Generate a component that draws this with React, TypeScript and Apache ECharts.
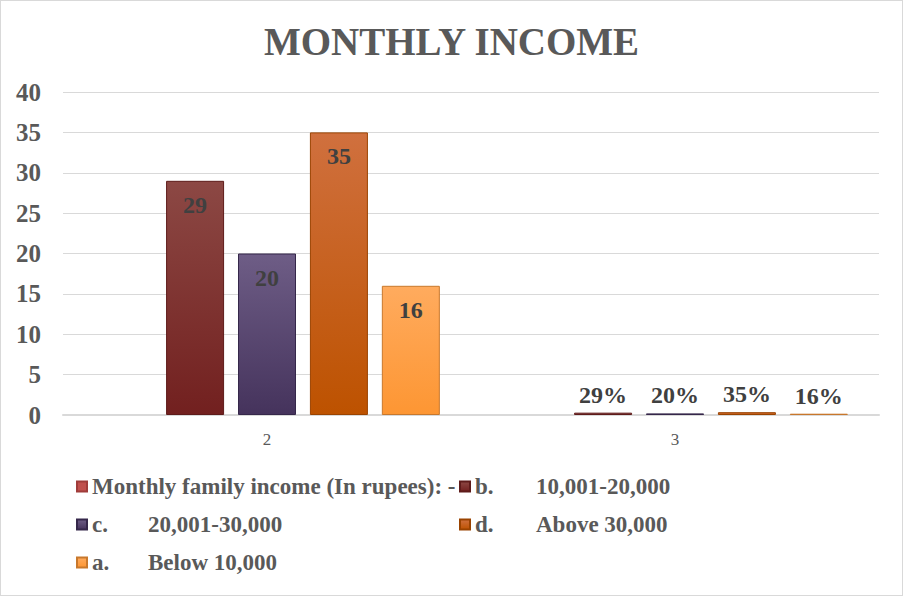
import React, { useEffect, useRef } from "react";
import * as echarts from "echarts";

// categories and values
const categories = ["2", "3"];
const legendKeys = ["Monthly family income (In rupees): -", "b.", "c.", "d.", "a."];
const legendTexts = ["", "10,001-20,000", "20,001-30,000", "Above 30,000", "Below 10,000"];
const headerValues: (number | null)[] = [null, null];
const bValues = [29, 0.29];
const cValues = [20, 0.2];
const dValues = [35, 0.35];
const aValues = [16, 0.16];
const yTicks = [0, 5, 10, 15, 20, 25, 30, 35, 40];

const seriesValues = [headerValues, bValues, cValues, dValues, aValues];
const seriesNames = legendKeys.map((k, i) => (legendTexts[i] ? k + " " + legendTexts[i] : k));

const FONT = "'Liberation Serif', 'Times New Roman', serif";

const grad = (top: string, bottom: string) => ({
    type: "linear",
    x: 0,
    y: 0,
    x2: 0,
    y2: 1,
    colorStops: [
        { offset: 0, color: top },
        { offset: 1, color: bottom },
    ],
});

const fills = [
    { color: "#c0504d", border: "#a03c3a" },
    { color: grad("#8c4844", "#72201f"), border: "#5e1b1a" },
    { color: grad("#6e5d86", "#45335c"), border: "#35274a" },
    { color: grad("#d0703e", "#bd5200"), border: "#9a4300" },
    { color: grad("#ffab5e", "#fd9633"), border: "#c8782c" },
];

const App: React.FC = () => {
    const chartRef = useRef<HTMLDivElement>(null);

    useEffect(() => {
        document.body.style.margin = "0";
        if (!chartRef.current) return;
        const chart = echarts.init(chartRef.current, undefined, { renderer: "svg" });

        const legendFormatter = (name: string) => {
            const i = seriesNames.indexOf(name);
            if (!legendTexts[i]) return `{v|${legendKeys[i]}}`;
            return `{k|${legendKeys[i]}}{v|${legendTexts[i]}}`;
        };
        const legendText = (keyWidth: number) => ({
            fontFamily: FONT,
            fontSize: 23,
            fontWeight: "bold",
            color: "#595959",
            rich: {
                k: { fontFamily: FONT, fontSize: 23, fontWeight: "bold", color: "#595959", width: keyWidth, lineHeight: 25 },
                v: { fontFamily: FONT, fontSize: 23, fontWeight: "bold", color: "#595959", lineHeight: 25 },
            },
        });
        const legendBase = {
            orient: "vertical",
            top: 474,
            padding: 0,
            itemWidth: 10,
            itemHeight: 10,
            itemGap: 15,
            icon: "rect",
            formatter: legendFormatter,
        };

        chart.setOption({
            animation: false,
            title: {
                text: "MONTHLY INCOME",
                left: "center",
                top: 16,
                textStyle: { fontFamily: FONT, fontSize: 39, fontWeight: "bold", color: "#595959" },
            },
            legend: [
                {
                    ...legendBase,
                    data: [seriesNames[0], seriesNames[2], seriesNames[4]],
                    left: 75,
                    textStyle: legendText(56),
                },
                {
                    ...legendBase,
                    data: [seriesNames[1], seriesNames[3]],
                    left: 458,
                    textStyle: legendText(61),
                },
            ],
            grid: { left: 62, right: 23, top: 91, bottom: 180, containLabel: false },
            xAxis: {
                type: "category",
                data: categories,
                axisLine: { lineStyle: { color: "#d9d9d9", width: 2 } },
                axisTick: { show: false },
                axisLabel: { fontFamily: FONT, fontSize: 17, color: "#595959", margin: 16 },
            },
            yAxis: {
                type: "value",
                min: yTicks[0],
                max: yTicks[yTicks.length - 1],
                interval: 5,
                axisLine: { show: false },
                axisTick: { show: false },
                splitLine: { lineStyle: { color: "#d9d9d9" } },
                axisLabel: { fontFamily: FONT, fontSize: 25, fontWeight: "bold", color: "#595959", margin: 22 },
            },
            series: seriesValues.map((vals, si) => ({
                name: seriesNames[si],
                type: "bar",
                barWidth: 58,
                barGap: "24%",
                itemStyle: { color: fills[si].color, borderColor: fills[si].border, borderWidth: 1 },
                data: vals.map((v, ci) => ({
                    value: v,
                    label:
                        ci === 0
                            ? { position: "insideTop", distance: 12 }
                            : { position: "top", distance: 6 },
                })),
                label: {
                    show: si > 0,
                    fontFamily: FONT,
                    fontSize: 24,
                    fontWeight: "bold",
                    color: "#404040",
                    formatter: (p: any) =>
                        p.dataIndex === 1 ? Math.round(p.value * 100) + "%" : String(p.value),
                },
            })),
        });

        return () => {
            chart.dispose();
        };
    }, []);

    return (
        <div
            style={{
                position: "absolute",
                left: 0,
                top: 0,
                width: 903,
                height: 596,
                boxSizing: "border-box",
                border: "1px solid #d9d9d9",
                background: "#fff",
            }}
        >
            <div ref={chartRef} style={{ width: "100%", height: "100%" }} />
        </div>
    );
};

export default App;
